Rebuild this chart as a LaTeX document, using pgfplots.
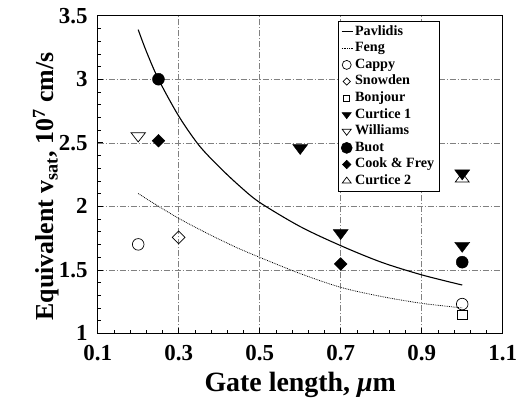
\documentclass[border=0pt]{standalone}
\usepackage{fontspec}
\setmainfont{Liberation Serif}
\usepackage{pgfplots}
\pgfplotsset{compat=1.18}
\pgfplotsset{
  legmark/.style={legend image code/.code={\draw[##1] plot coordinates {(5bp,0bp)};}},
  legline/.style={legend image code/.code={\draw[##1] (0bp,0bp) -- (11bp,0bp);}},
}
\begin{document}
\begin{tikzpicture}
\begin{axis}[
  scale only axis,
  width=405bp, height=317.6bp,
  xmin=0.1, xmax=1.1, ymin=1, ymax=3.5,
  xtick={0.1,0.3,0.5,0.7,0.9,1.1},
  ytick={1,1.5,2,2.5,3,3.5},
  minor x tick num=4, minor y tick num=4,
  tick align=inside, tick pos=left,
  major tick length=5bp, minor tick length=3bp,
  every tick/.style={black, line width=0.5bp},
  axis line style={line width=1bp},
  grid=major,
  major grid style={black!50, line width=0.45bp, dash pattern=on 6bp off 2bp on 1bp off 2bp},
  /pgf/number format/assume math mode=true,
  ticklabel style={font=\fontsize{23}{23}\selectfont\bfseries, inner sep=0bp},
  xticklabel style={yshift=-12bp},
  yticklabel style={xshift=-10bp},
  xlabel={Gate length, \textit{μ}m},
  ylabel={Equivalent v\textsubscript{sat}, 10\textsuperscript{7} cm/s},
  xlabel style={font=\fontsize{28}{28}\selectfont\bfseries, yshift=-8bp},
  ylabel style={font=\fontsize{26}{26}\selectfont\bfseries, yshift=-4bp, xshift=-12bp},
  legend style={at={(0.593,0.983)}, anchor=north west, draw=black, line width=0.6bp,
    fill=white, font=\fontsize{14.2}{14.2}\selectfont\bfseries,
    nodes={inner sep=1.8bp, text height=10bp, text depth=3bp},
    row sep=0bp},
  legend cell align=left,
]
\addlegendimage{legline, black, line width=1.1bp}
\addlegendimage{legline, black, densely dotted, line width=0.8bp}
\addlegendimage{legmark, only marks, mark=o, mark size=4.5bp, black, line width=0.7bp}
\addlegendimage{legmark, only marks, mark=square, mark size=2.6bp, mark options={rotate=45}, black, line width=0.7bp}
\addlegendimage{legmark, only marks, mark=square, mark size=3bp, black, line width=0.7bp}
\addlegendimage{legmark, only marks, mark=triangle*, mark size=4bp, mark options={rotate=180, xscale=1.3}, black}
\addlegendimage{legmark, only marks, mark=triangle, mark size=4bp, mark options={rotate=180, xscale=1.3}, black, line width=0.7bp}
\addlegendimage{legmark, only marks, mark=*, mark size=5.5bp, black}
\addlegendimage{legmark, only marks, mark=square*, mark size=3bp, mark options={rotate=45}, black}
\addlegendimage{legmark, only marks, mark=triangle, mark size=4bp, mark options={xscale=1.3}, black, line width=0.7bp}
\legend{Pavlidis, Feng, Cappy, Snowden, Bonjour, Curtice 1, Williams, Buot, Cook \& Frey, Curtice 2}

% Pavlidis
\addplot[black, line width=1.1bp, smooth, forget plot] coordinates {
(0.2,3.39)(0.22,3.22)(0.25,3.0)(0.3,2.71)(0.35,2.48)(0.4,2.31)(0.45,2.16)(0.5,2.03)(0.6,1.84)(0.7,1.69)(0.8,1.56)(0.9,1.46)(1.0,1.38)};
% Feng
\addplot[black, densely dotted, line width=0.8bp, smooth, forget plot] coordinates {
(0.2,2.10)(0.25,2.00)(0.3,1.905)(0.35,1.82)(0.4,1.74)(0.45,1.665)(0.5,1.598)(0.6,1.47)(0.7,1.362)(0.8,1.29)(0.9,1.236)(1.0,1.20)};
% Cappy
\addplot[only marks, mark=o, mark size=5.8bp, black, line width=0.7bp, forget plot] coordinates {(0.2,1.70)(1.0,1.23)};
% Snowden
\addplot[only marks, mark=square, mark size=4.5bp, mark options={rotate=45}, black, line width=0.7bp, forget plot] coordinates {(0.3,1.755)};
% Bonjour
\addplot[only marks, mark=square, mark size=4.8bp, mark options={yscale=0.85}, black, line width=0.7bp, forget plot] coordinates {(1.0,1.145)};
% Curtice 1
\addplot[only marks, mark=triangle*, mark size=6.7bp, mark options={rotate=180, xscale=1.3}, black, forget plot] coordinates {(0.6,2.46)(0.7,1.79)(1.0,1.69)(1.0,2.26)};
% Williams
\addplot[only marks, mark=triangle, mark size=6.2bp, mark options={rotate=180, xscale=1.35}, black, line width=0.7bp, forget plot] coordinates {(0.2,2.555)};
% Buot
\addplot[only marks, mark=*, mark size=6bp, black, forget plot] coordinates {(0.25,3.0)(1.0,1.56)};
% Cook & Frey
\addplot[only marks, mark=square*, mark size=4.5bp, mark options={rotate=45}, black, forget plot] coordinates {(0.25,2.516)(0.7,1.546)};
% Curtice 2
\addplot[only marks, mark=triangle, mark size=6.2bp, mark options={xscale=1.3}, black, line width=0.7bp, forget plot] coordinates {(1.0,2.215)};

\path (rel axis cs:0,0) ++(-97.7bp,-69.7bp) coordinate (bbl);
\path (rel axis cs:1,1) ++(16.3bp,15.7bp) coordinate (btr);
\end{axis}
\path (bbl) (btr);
\end{tikzpicture}
\end{document}
